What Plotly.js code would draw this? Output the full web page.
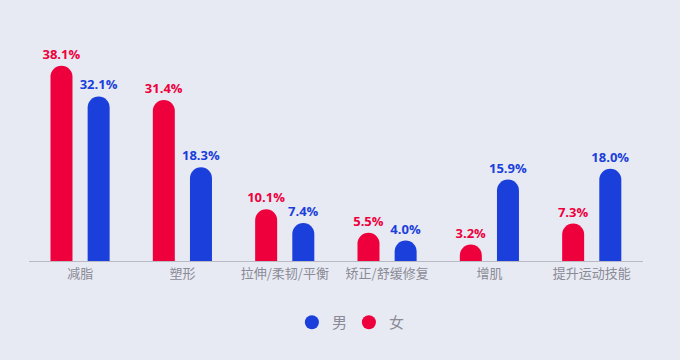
<!DOCTYPE html>
<html><head><meta charset="utf-8">
<script src="https://cdn.plot.ly/plotly-3.0.1.min.js"></script>
<style>html,body{margin:0;padding:0;background:#e8eaf3;}</style>
</head><body>
<div id="chart" style="width:680px;height:360px;"></div>
<script>
const categories = ["减脂","塑形","拉伸/柔韧/平衡","矫正/舒缓修复","增肌","提升运动技能"];
const female = [38.1, 31.4, 10.1, 5.5, 3.2, 7.3];
const male = [32.1, 18.3, 7.4, 4.0, 15.9, 18.0];
const femaleName = "女";
const maleName = "男";
const red = "#ee003c";
const blue = "#1a3fdb";
const fmt = v => v.toFixed(1) + "%";
const labelFont = {family: "Open Sans, Noto Sans CJK SC, sans-serif", size: 13, weight: 700};

const traces = [
  {type:"bar", x:categories, y:female, name:femaleName, showlegend:false,
   marker:{color:red, cornerradius:11}, width:0.215, offset:-0.29,
   text:female.map(fmt), textposition:"outside", cliponaxis:false, constraintext:"none",
   textfont:Object.assign({color:red}, labelFont), hoverinfo:"skip"},
  {type:"bar", x:categories, y:male, name:maleName, showlegend:false,
   marker:{color:blue, cornerradius:11}, width:0.215, offset:0.073,
   text:male.map(fmt), textposition:"outside", cliponaxis:false, constraintext:"none",
   textfont:Object.assign({color:blue}, labelFont), hoverinfo:"skip"},
  {type:"scatter", mode:"markers", x:[null], y:[null], name:maleName,
   marker:{color:blue, size:14, symbol:"circle"}},
  {type:"scatter", mode:"markers", x:[null], y:[null], name:femaleName,
   marker:{color:red, size:14, symbol:"circle"}}
];

const layout = {
  width:680, height:360,
  paper_bgcolor:"#e8eaf3", plot_bgcolor:"#e8eaf3",
  margin:{l:29, r:37, t:56, b:99},
  barmode:"overlay",
  font:{family:"Noto Sans CJK SC, sans-serif", color:"#8a8b96"},
  xaxis:{type:"category", range:[-0.5,5.5], showline:true, linecolor:"#b9bac4", linewidth:1,
         ticks:"", tickfont:{size:13, color:"#8a8b96"}, showgrid:false, zeroline:false, fixedrange:true},
  yaxis:{range:[0,40], visible:false, showgrid:false, zeroline:false, fixedrange:true},
  showlegend:true,
  legend:{orientation:"h", x:0.521, xanchor:"center", y:-0.3, yanchor:"middle",
          font:{size:15, color:"#8a8b96"}, traceorder:"normal", itemwidth:30,
          entrywidth:12, bgcolor:"rgba(0,0,0,0)"}
};
Plotly.newPlot("chart", traces, layout, {displayModeBar:false, staticPlot:true});
</script>
</body></html>
